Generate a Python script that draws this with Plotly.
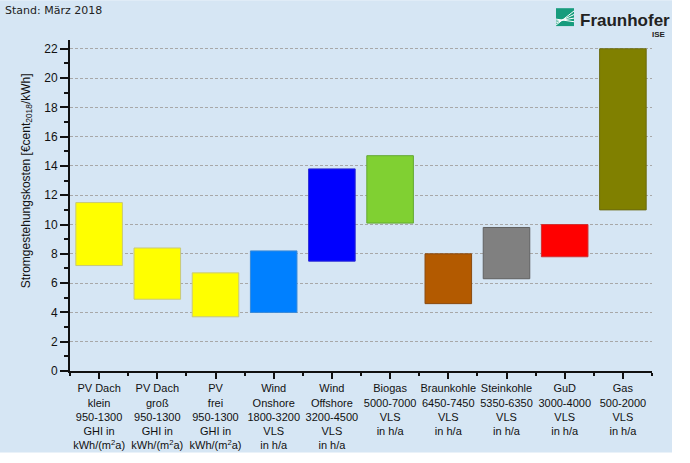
import plotly.graph_objects as go

categories = ["PV Dach klein", "PV Dach groß", "PV frei", "Wind Onshore", "Wind Offshore",
              "Biogas", "Braunkohle", "Steinkohle", "GuD", "Gas"]
tick_labels = [
    "PV Dach<br>klein<br>950-1300<br>GHI in<br>kWh/(m<sup>2</sup>a)",
    "PV Dach<br>groß<br>950-1300<br>GHI in<br>kWh/(m<sup>2</sup>a)",
    "PV<br>frei<br>950-1300<br>GHI in<br>kWh/(m<sup>2</sup>a)",
    "Wind<br>Onshore<br>1800-3200<br>VLS<br>in h/a",
    "Wind<br>Offshore<br>3200-4500<br>VLS<br>in h/a",
    "Biogas<br>5000-7000<br>VLS<br>in h/a",
    "Braunkohle<br>6450-7450<br>VLS<br>in h/a",
    "Steinkohle<br>5350-6350<br>VLS<br>in h/a",
    "GuD<br>3000-4000<br>VLS<br>in h/a",
    "Gas<br>500-2000<br>VLS<br>in h/a",
]
cost_min = [7.2, 4.9, 3.7, 4.0, 7.5, 10.1, 4.6, 6.3, 7.8, 11.0]
cost_max = [11.5, 8.4, 6.7, 8.2, 13.8, 14.7, 8.0, 9.8, 10.0, 22.0]
bar_colors = ["#ffff00", "#ffff00", "#ffff00", "#0080ff", "#0000ff",
              "#80d032", "#b35a00", "#808080", "#ff0000", "#808000"]
edge_colors = ["#c8c87a", "#c8c87a", "#c8c87a", "#3a8ad8", "#2a2ad0",
               "#62a830", "#8a4a10", "#606060", "#d03030", "#6a6a10"]

W, H = 690, 463
L, R, T, B = 70, 38, 40, 90
pw, ph = W - L - R, H - T - B


def px(xp):
    return (xp - L) / pw


def py(yp):
    return (H - B - yp) / ph


xs = list(range(len(categories)))
fig = go.Figure()
fig.add_trace(go.Bar(
    x=xs,
    y=[hi - lo for lo, hi in zip(cost_min, cost_max)],
    base=cost_min,
    width=0.8,
    marker=dict(color=bar_colors, line=dict(color=edge_colors, width=1)),
    hovertext=categories,
    showlegend=False,
))

shapes = [
    dict(type="rect", xref="paper", yref="paper", x0=px(0), x1=px(672), y0=py(455), y1=py(0),
         fillcolor="#d6e6f4", line=dict(width=0), layer="below"),
    # logo icon
    dict(type="rect", xref="paper", yref="paper", x0=px(556), x1=px(574), y0=py(26), y1=py(8),
         fillcolor="#179c7d", line=dict(width=0), layer="above"),
]
for k in range(4):
    off = 4.0 * k + 2
    shapes.append(dict(type="line", xref="paper", yref="paper",
                       x0=px(556), y0=py(26 - off * 0.5),
                       x1=px(574), y1=py(9 + off * 0.9),
                       line=dict(color="white", width=1), layer="above"))

annotations = [
    dict(text="Stand: März 2018", xref="paper", yref="paper", x=px(3), y=py(10),
         xanchor="left", yanchor="middle", showarrow=False,
         font=dict(family="DejaVu Sans", size=11, color="#222")),
    dict(text="<b>Fraunhofer</b>", xref="paper", yref="paper", x=px(578), y=py(20),
         xanchor="left", yanchor="middle", showarrow=False,
         font=dict(family="Liberation Sans", size=17, color="#222")),
    dict(text="<b>ISE</b>", xref="paper", yref="paper", x=px(668), y=py(34),
         xanchor="right", yanchor="middle", showarrow=False,
         font=dict(family="Liberation Sans", size=8, color="#222")),
    dict(text="Stromgestehungskosten [€cent<sub>2018</sub>/kWh]", xref="paper", yref="paper",
         x=px(27), y=py(182), textangle=-90, xanchor="center", yanchor="middle",
         showarrow=False, font=dict(family="Liberation Sans", size=12, color="#111")),
]

fig.update_layout(
    width=W, height=H,
    margin=dict(l=L, r=R, t=T, b=B),
    paper_bgcolor="white",
    plot_bgcolor="rgba(0,0,0,0)",
    shapes=shapes,
    annotations=annotations,
    font=dict(family="Liberation Sans", size=12, color="#111"),
    bargap=0.2,
)
fig.update_xaxes(
    range=[-0.5, 9.5], tickmode="array", tickvals=xs, ticktext=tick_labels,
    showline=True, linecolor="#111", linewidth=2,
    ticks="outside", ticklen=6, tickwidth=2, tickcolor="#111",
    minor=dict(tickmode="linear", tick0=-0.5, dtick=1, ticks="outside", ticklen=3,
               tickwidth=2, tickcolor="#111", showgrid=False),
    showgrid=False, zeroline=False,
    tickfont=dict(family="Liberation Sans", size=11, color="#111"),
)
fig.update_yaxes(
    range=[0, 22.6], tickmode="linear", tick0=0, dtick=2,
    showline=True, linecolor="#111", linewidth=2,
    ticks="outside", ticklen=8, tickwidth=2, tickcolor="#111",
    minor=dict(tickmode="linear", tick0=1, dtick=2, ticks="outside", ticklen=4,
               tickwidth=2, tickcolor="#111", showgrid=False),
    showgrid=True, gridcolor="#a8a8a8", gridwidth=1, griddash="3px,2px",
    zeroline=False,
    tickfont=dict(family="Liberation Sans", size=12, color="#111"),
)

fig.write_html("out.html", config={"displayModeBar": False},
               post_script="document.body.style.margin='0';")
